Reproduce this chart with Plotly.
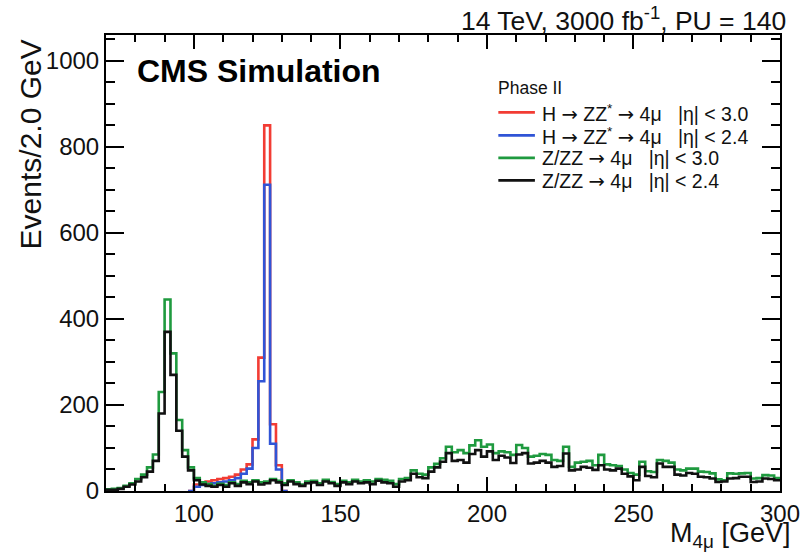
import plotly.graph_objects as go

# ---------------- data ----------------
BIN_WIDTH = 2.0
ZZ_START = 70.0
# Z/ZZ -> 4mu, |eta| < 3.0 (green) ; bins 70..300, 2 GeV
zz_eta30 = [4, 5, 7, 12, 18, 28, 38, 55, 85, 230, 445, 320, 165, 95, 55, 30, 20, 16,
            12, 17, 14, 20, 16, 24, 20, 25, 20, 22, 28, 24, 18, 25, 20, 15, 22, 24,
            18, 26, 21, 16, 24, 20, 26, 22, 25, 22, 28, 26, 24, 16, 28, 30, 48, 40,
            38, 55, 63, 76, 103, 90, 95, 88, 106, 118, 103, 108, 88, 92, 90, 84,
            107, 100, 80, 82, 86, 84, 72, 70, 103, 56, 66, 68, 70, 60, 84, 62, 60,
            58, 50, 42, 38, 68, 46, 44, 72, 70, 66, 50, 48, 52, 52, 45, 44, 41, 27,
            25, 41, 40, 41, 42, 29, 30, 37, 36, 30]
# Z/ZZ -> 4mu, |eta| < 2.4 (black)
zz_eta24 = [3, 3, 5, 10, 15, 22, 32, 45, 70, 180, 370, 270, 140, 80, 48, 25, 15, 12,
            10, 14, 10, 18, 12, 20, 16, 22, 15, 18, 25, 20, 14, 22, 16, 12, 18, 20,
            14, 22, 18, 12, 20, 16, 22, 18, 20, 16, 24, 20, 18, 10, 22, 25, 40, 32,
            30, 45, 55, 68, 88, 70, 72, 66, 86, 95, 80, 92, 72, 82, 78, 65, 85, 88,
            64, 66, 70, 66, 56, 58, 87, 48, 50, 56, 54, 49, 60, 50, 48, 52, 40, 34,
            25, 56, 35, 32, 64, 56, 56, 38, 36, 42, 40, 33, 32, 29, 21, 22, 29, 30,
            33, 33, 21, 22, 29, 28, 25]

H_START = 98.0
# H -> ZZ* -> 4mu, |eta| < 3.0 (red) ; bins 98..132
h_eta30 = [0, 15, 20, 22, 25, 28, 30, 33, 38, 50, 62, 120, 310, 850, 155, 60, 0]
# H -> ZZ* -> 4mu, |eta| < 2.4 (blue)
h_eta24 = [0, 10, 14, 16, 18, 20, 22, 25, 30, 40, 52, 100, 255, 712, 110, 50, 0]

ARROW = '<span style="font-family:DejaVu Sans">\u2192</span>'
GAP = "\u00a0\u00a0\u00a0"
series_names = [
    f"H {ARROW} ZZ<sup>*</sup> {ARROW} 4\u03bc{GAP}|\u03b7| < 3.0",
    f"H {ARROW} ZZ<sup>*</sup> {ARROW} 4\u03bc{GAP}|\u03b7| < 2.4",
    f"Z/ZZ {ARROW} 4\u03bc{GAP}|\u03b7| < 3.0",
    f"Z/ZZ {ARROW} 4\u03bc{GAP}|\u03b7| < 2.4",
]
legend_title = "Phase II"
x_ticks = [100, 150, 200, 250, 300]
y_ticks = [0, 200, 400, 600, 800, 1000]

# ---------------- helpers ----------------
def edges(start, n):
    return [start + BIN_WIDTH * i for i in range(n + 1)]

def step_xy(start, vals):
    return edges(start, len(vals)), list(vals) + [vals[-1]]

FONT = "Liberation Sans, Arial, Helvetica, sans-serif"
RED, BLUE, GREEN, BLACK = "#f23c34", "#3054d6", "#1f9a3f", "#111111"
TXT = "#111111"

# plot area in pixels
L, R, T, B = 106, 788, 34.5, 491
W, H = 812, 553
def px(xp):
    return (xp - L) / (R - L)
def py(yp):
    return (B - yp) / (B - T)

fig = go.Figure()
specs = [
    (H_START, h_eta30, RED),
    (H_START, h_eta24, BLUE),
    (ZZ_START, zz_eta30, GREEN),
    (ZZ_START, zz_eta24, BLACK),
]
for (start, vals, col), name in zip(specs, series_names):
    xs, ys = step_xy(start, vals)
    fig.add_trace(go.Scatter(x=xs, y=ys, mode="lines", line=dict(color=col, width=2.6, shape="hv"),
                             name=name, showlegend=False, hoverinfo="skip"))

axis_common = dict(showline=True, linewidth=2, linecolor="black", mirror="allticks",
                   ticks="inside", tickwidth=2, tickcolor="black", showgrid=False,
                   zeroline=False, tickfont=dict(family=FONT, size=24, color=TXT))

fig.update_layout(
    width=W, height=H,
    margin=dict(l=L, r=W - R, t=T, b=H - B, pad=0),
    paper_bgcolor="white", plot_bgcolor="white",
    font=dict(family=FONT, color=TXT),
    xaxis=dict(range=[70, 300], tickvals=x_ticks, ticktext=[str(v) for v in x_ticks], ticklen=14,
               minor=dict(dtick=10, tick0=0, ticks="inside", ticklen=7, tickwidth=2, tickcolor="black"),
               **axis_common),
    yaxis=dict(range=[0, 1060], tickvals=y_ticks, ticktext=[str(v) for v in y_ticks], ticklen=18,
               minor=dict(dtick=50, tick0=0, ticks="inside", ticklen=9, tickwidth=2, tickcolor="black"),
               **axis_common),
    showlegend=False,
)

# ---- hand-placed legend (ROOT TLegend style) ----
fig.add_annotation(text=legend_title, xref="paper", yref="paper", x=px(501), y=py(88),
                   xanchor="left", yanchor="middle", showarrow=False,
                   font=dict(family=FONT, size=17.5, color=TXT))
row_y = [112, 135, 157.5, 180]
for (start, vals, col), name, ry in zip(specs, series_names, row_y):
    fig.add_shape(type="line", xref="paper", yref="paper", x0=px(503), x1=px(540),
                  y0=py(ry), y1=py(ry), line=dict(color=col, width=2.6))
    fig.add_annotation(text=name, xref="paper", yref="paper", x=px(545), y=py(ry + 1),
                       xanchor="left", yanchor="middle", showarrow=False,
                       font=dict(family=FONT, size=19.5, color=TXT))

fig.add_annotation(text="14 TeV, 3000 fb<sup>-1</sup>, PU = 140", xref="paper", yref="paper",
                   x=px(796), y=py(18), xanchor="right", yanchor="middle", showarrow=False,
                   font=dict(family=FONT, size=26.5, color=TXT))
fig.add_annotation(text="<b>CMS Simulation</b>", xref="paper", yref="paper",
                   x=px(135), y=py(71), xanchor="left", yanchor="middle", showarrow=False,
                   font=dict(family=FONT, size=32, color="black"))
fig.add_annotation(text="Events/2.0 GeV", xref="paper", yref="paper", textangle=-90,
                   x=px(30), y=py(37), xanchor="center", yanchor="top", showarrow=False,
                   font=dict(family=FONT, size=30, color=TXT))
fig.add_annotation(text="M<sub>4\u03bc</sub> [GeV]", xref="paper", yref="paper",
                   x=px(800), y=py(535), xanchor="right", yanchor="middle", showarrow=False,
                   font=dict(family=FONT, size=27, color=TXT))

fig.write_html("out.html")
